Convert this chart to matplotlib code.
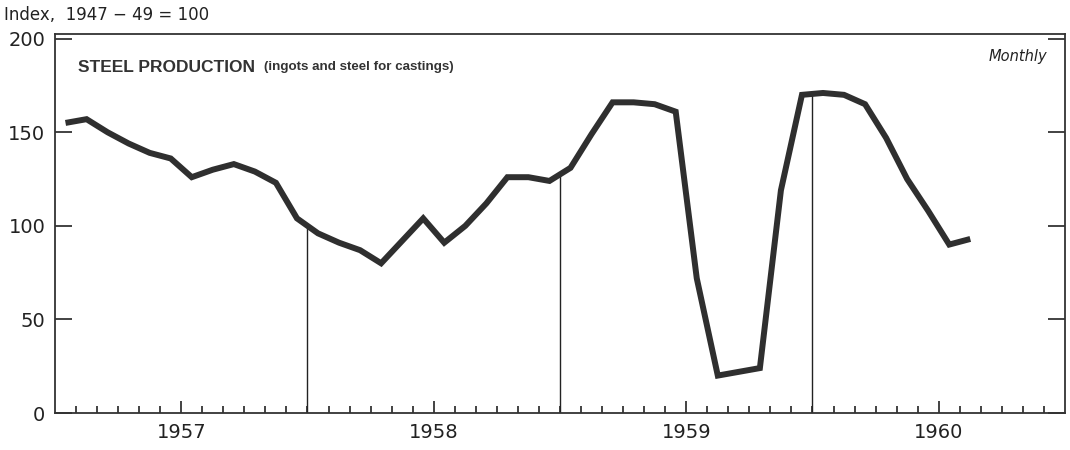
import matplotlib
matplotlib.use("Agg")
import matplotlib.pyplot as plt
import numpy as np

# monthly index, Jan 1957 .. Aug 1960 (1947-49 = 100)
years = [1957, 1958, 1959, 1960]
steel = [155, 157, 150, 144, 139, 136, 126, 130, 133, 129, 123, 104,
         96, 91, 87, 80, 92, 104, 91, 100, 112, 126, 126, 124,
         131, 149, 166, 166, 165, 161, 72, 20, 22, 24, 119, 170,
         171, 170, 165, 147, 125, 108, 90, 93]
y_ticks = [0, 50, 100, 150, 200]

plt.rcParams['font.family'] = ['DejaVu Sans']

fig = plt.figure(figsize=(10.7, 4.5), dpi=100)
ax = fig.add_axes([0.0514, 0.0822, 0.9439, 0.8422])

x = np.arange(len(steel)) + 0.5
ax.plot(x, steel, color='#2f2f2f', lw=4.3, solid_joinstyle='miter',
        solid_capstyle='butt', zorder=3)

# year boundary lines running up to the curve
for b in [12, 24, 36]:
    top = np.interp(b, x, steel)
    ax.plot([b, b], [0, top], color='#222222', lw=1.0, zorder=2)

ax.set_xlim(0, 48)
ax.set_ylim(0, 202.5)

ax.set_xticks([6, 18, 30, 42])
ax.set_xticklabels([str(y) for y in years], fontsize=14)
ax.set_xticks([m for m in range(1, 48) if m % 6 != 0 or m % 12 == 0], minor=True)
ax.tick_params(axis='x', which='major', direction='in', length=9, width=1.2,
               pad=7, colors='#222222')
ax.tick_params(axis='x', which='minor', direction='in', length=5, width=1.2,
               colors='#222222')

ax.set_yticks(y_ticks)
ax.set_yticklabels([str(v) for v in y_ticks], fontsize=14)
ax.tick_params(axis='y', direction='in', length=12, width=1.2, pad=7,
               right=True, colors='#222222')

for s in ax.spines.values():
    s.set_linewidth(1.3)
    s.set_color('#333333')

t1 = ax.text(0.023, 0.912, 'STEEL PRODUCTION', transform=ax.transAxes,
             fontsize=12.5, fontweight='bold', family='Liberation Sans',
             color='#333333', va='center')
fig.canvas.draw()
bb = t1.get_window_extent(fig.canvas.get_renderer())
x_end = ax.transAxes.inverted().transform((bb.x1 + 9, bb.y0))[0]
ax.text(x_end, 0.912, '(ingots and steel for castings)', transform=ax.transAxes,
        fontsize=9.6, fontweight='bold', family='Liberation Sans',
        color='#333333', va='center')
ax.text(0.982, 0.94, 'Monthly', transform=ax.transAxes, fontsize=10.5,
        style='italic', color='#222222', ha='right', va='center')

fig.text(0.004, 0.967, 'Index,  1947 \u2212 49 = 100', fontsize=12,
         color='#222222', va='center')

fig.savefig('out.png', dpi=100, facecolor='white')
